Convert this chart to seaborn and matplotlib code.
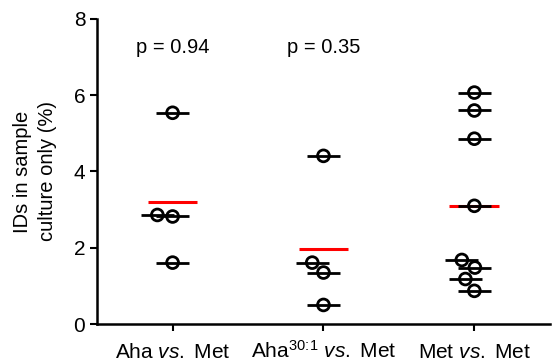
import numpy as np
import pandas as pd
import matplotlib
matplotlib.use('Agg')
import matplotlib.pyplot as plt
import seaborn as sns

# values (% IDs found only in sample culture)
aha_vs_met = [5.54, 2.86, 2.82, 1.61]
aha30_vs_met = [4.41, 1.61, 1.35, 0.50]
met_vs_met = [6.07, 5.60, 4.86, 3.10, 1.68, 1.48, 1.18, 0.87]
groups = ['Aha $\\it{vs.}$ Met', 'Aha$^{30\\!:\\!1}$ $\\it{vs.}$ Met', 'Met $\\it{vs.}$ Met']
p_values = ['p = 0.94', 'p = 0.35']

df = pd.DataFrame({
    'group': [groups[0]] * len(aha_vs_met) + [groups[1]] * len(aha30_vs_met)
             + [groups[2]] * len(met_vs_met),
    'value': aha_vs_met + aha30_vs_met + met_vs_met,
})

sns.set_style('ticks')
plt.rcParams['font.family'] = ['Liberation Sans', 'DejaVu Sans']
plt.rcParams['mathtext.fontset'] = 'custom'
plt.rcParams['mathtext.rm'] = 'Liberation Sans'
plt.rcParams['mathtext.it'] = 'Liberation Sans:italic'
for k in ['text.color', 'axes.labelcolor', 'xtick.color', 'ytick.color']:
    plt.rcParams[k] = 'black'

fig = plt.figure(figsize=(5.52, 3.63), dpi=100)
ax = fig.add_axes([0.176, 0.1074, 0.82, 0.8403])

# group means in red, behind everything
means = df.groupby('group', sort=False)['value'].mean()
ax.hlines(means.values, np.arange(3) - 0.165, np.arange(3) + 0.165,
          color='#ff0000', lw=2.2, zorder=1)

sns.swarmplot(data=df, x='group', y='value', order=groups, ax=ax,
              size=8.5, color='black', zorder=3)
for coll in ax.collections[1:]:
    coll.set_facecolor('none')
    coll.set_edgecolor('black')
    coll.set_linewidth(2)

ax.set_xlim(-0.5, 2.5)
ax.set_ylim(0, 8)
fig.canvas.draw()
# short black bar through each point
for coll in ax.collections[1:]:
    pts = coll.get_offsets()
    ax.hlines(pts[:, 1], pts[:, 0] - 0.11, pts[:, 0] + 0.11,
              color='black', lw=2, zorder=2)

for i, p in enumerate(p_values):
    ax.text(i, 7.24, p, ha='center', va='center', fontsize=14.5)

ax.set_yticks([0, 2, 4, 6, 8])
ax.set_xlabel('')
ax.set_ylabel('IDs in sample\nculture only (%)', fontsize=14.5, labelpad=12,
              linespacing=1.4)
ax.tick_params(axis='both', labelsize=15, width=1.5, length=5, color='black',
               labelcolor='black')
ax.tick_params(axis='x', pad=19.5)
for lab in ax.get_xticklabels():
    lab.set_verticalalignment('baseline')
for s in ['left', 'bottom']:
    ax.spines[s].set_linewidth(1.8)
    ax.spines[s].set_color('black')
sns.despine(ax=ax)

fig.savefig('out.png', dpi=100)
